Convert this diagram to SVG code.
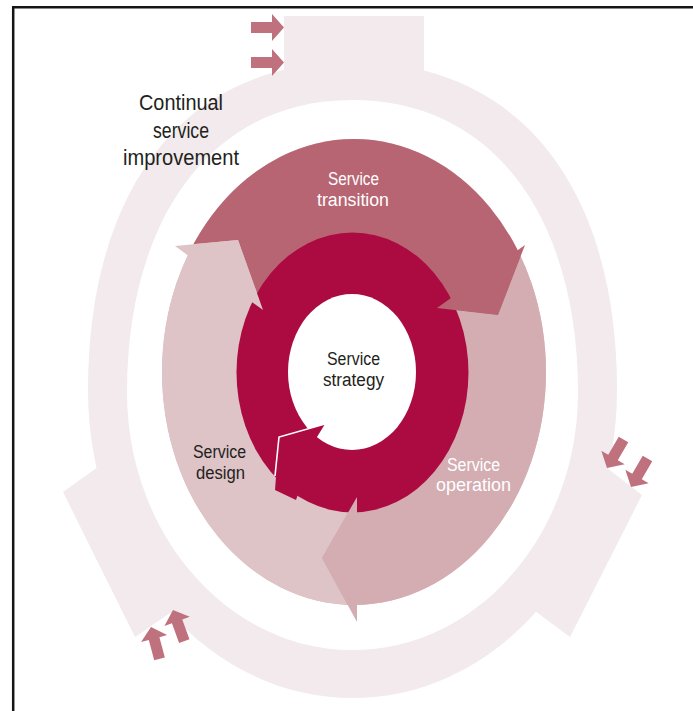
<svg xmlns="http://www.w3.org/2000/svg" width="693" height="711" viewBox="0 0 693 711">
  <defs>
    <style>
      .csi { fill: #F2EAEC; }
      .design { fill: #DEC3C7; }
      .transition { fill: #B86573; }
      .operation { fill: #D3ADB2; }
      .strategy { fill: #AC0B42; }
      .io { fill: #BF717E; }
      text { font-family: "Liberation Sans", Arial, sans-serif; }
      .dark { fill: #231F20; }
      .light { fill: #FFFFFF; }
      .lbl { font-size: 18px; }
      .csi-lbl { font-size: 21.5px; }
    </style>
    <!-- outline of the three lifecycle stages -->
    <clipPath id="disc">
      <ellipse cx="354" cy="372" rx="192" ry="233"/>
    </clipPath>
    <!-- small input/output arrow, tip at the origin, pointing along +x -->
    <path id="io-arrow" d="M0,0 L-12,-13.5 L-12,-5.5 L-33,-5.5 L-33,5.5 L-12,5.5 L-12,13.5 Z"/>
  </defs>

  <rect width="693" height="711" fill="#FFFFFF"/>
  <!-- frame -->
  <path d="M13.2,711 V7.2 H693" fill="none" stroke="#151515" stroke-width="2.5"/>

  <!-- Continual service improvement: outer band with three tabs -->
  <g id="csi">
    <path class="csi" d="M352.5,62 C524.4,62 617,193.2 617,390 C617,560.1 498.6,698 352.5,698 C206.4,698 88,560.1 88,390 C88,193.2 180.6,62 352.5,62 Z"/>
    <rect class="csi" x="284" y="16" width="140" height="80"/>
    <polygon class="csi" points="98,467 63,492 135,637 170,613 140,540"/>
    <polygon class="csi" points="607,468 642,495 570,637 535,611 565,540"/>
    <path fill="#FFFFFF" d="M352.5,100 C496.8,100 578,222.6 578,392 C578,534.5 477,650 352.5,650 C228,650 127,534.5 127,392 C127,222.6 208.2,100 352.5,100 Z"/>
    <text class="dark csi-lbl" x="139" y="110" textLength="84" lengthAdjust="spacingAndGlyphs">Continual</text>
    <text class="dark csi-lbl" x="153" y="137.5" textLength="56" lengthAdjust="spacingAndGlyphs">service</text>
    <text class="dark csi-lbl" x="123" y="165" textLength="116" lengthAdjust="spacingAndGlyphs">improvement</text>
  </g>

  <!-- base of the stage disc -->
  <ellipse class="design" cx="354" cy="372" rx="192" ry="233"/>

  <g id="design">
    <polygon class="design" clip-path="url(#disc)" points="354,372 357,497 322,558 357,622 365,720 40,720 40,257 175,246 238,240 263,310"/>
    <text class="dark lbl" x="193" y="458" textLength="53" lengthAdjust="spacingAndGlyphs">Service</text>
    <text class="dark lbl" x="196" y="478.5" textLength="49" lengthAdjust="spacingAndGlyphs">design</text>
  </g>

  <g id="transition">
    <polygon class="transition" clip-path="url(#disc)" points="354,372 263,310 238,240 175,246 40,257 40,90 660,90 660,190 545,193 525,245 498,315 437,308"/>
    <text class="light lbl" x="328" y="185" textLength="51" lengthAdjust="spacingAndGlyphs">Service</text>
    <text class="light lbl" x="317" y="206" textLength="72" lengthAdjust="spacingAndGlyphs">transition</text>
  </g>

  <g id="operation">
    <polygon class="operation" clip-path="url(#disc)" points="354,372 437,308 498,315 525,245 545,193 660,190 660,720 365,720 357,622 322,558 357,497"/>
    <text class="light lbl" x="447" y="470.5" textLength="53" lengthAdjust="spacingAndGlyphs">Service</text>
    <text class="light lbl" x="436" y="491" textLength="75" lengthAdjust="spacingAndGlyphs">operation</text>
  </g>

  <!-- Service strategy: ring arrow with its head over its own tail -->
  <g id="strategy">
    <ellipse class="strategy" cx="352.5" cy="372.5" rx="116" ry="140"/>
    <ellipse fill="#FFFFFF" cx="352" cy="372" rx="64" ry="78"/>
    <polygon class="strategy" points="325,424 279,437 275,490 296,500 317,437"/>
    <polyline points="325,424 279,437 275,476" fill="none" stroke="#FFFFFF" stroke-width="1.6"/>
    <text class="dark lbl" x="327" y="365" textLength="53" lengthAdjust="spacingAndGlyphs">Service</text>
    <text class="dark lbl" x="323" y="386" textLength="61" lengthAdjust="spacingAndGlyphs">strategy</text>
  </g>

  <!-- heads of the three stage arrows, drawn over neighbours and the ring -->
  <g id="stage-heads">
    <polygon id="design-head" class="design" points="175,246 238,240 263,310"/>
    <polygon id="transition-head" class="transition" points="525,245 498,315 437,308"/>
    <polygon id="operation-head" class="operation" points="357,622 322,558 357,497"/>
  </g>

  <g id="connectors">
    <use href="#io-arrow" class="io" transform="translate(284,27.5)"/>
    <use href="#io-arrow" class="io" transform="translate(284,62.5)"/>
    <use href="#io-arrow" class="io" transform="translate(607,468) rotate(120)"/>
    <use href="#io-arrow" class="io" transform="translate(631,487) rotate(120)"/>
    <use href="#io-arrow" class="io" transform="translate(151,627) rotate(-105)"/>
    <use href="#io-arrow" class="io" transform="translate(173,610) rotate(-110)"/>
  </g>
</svg>
